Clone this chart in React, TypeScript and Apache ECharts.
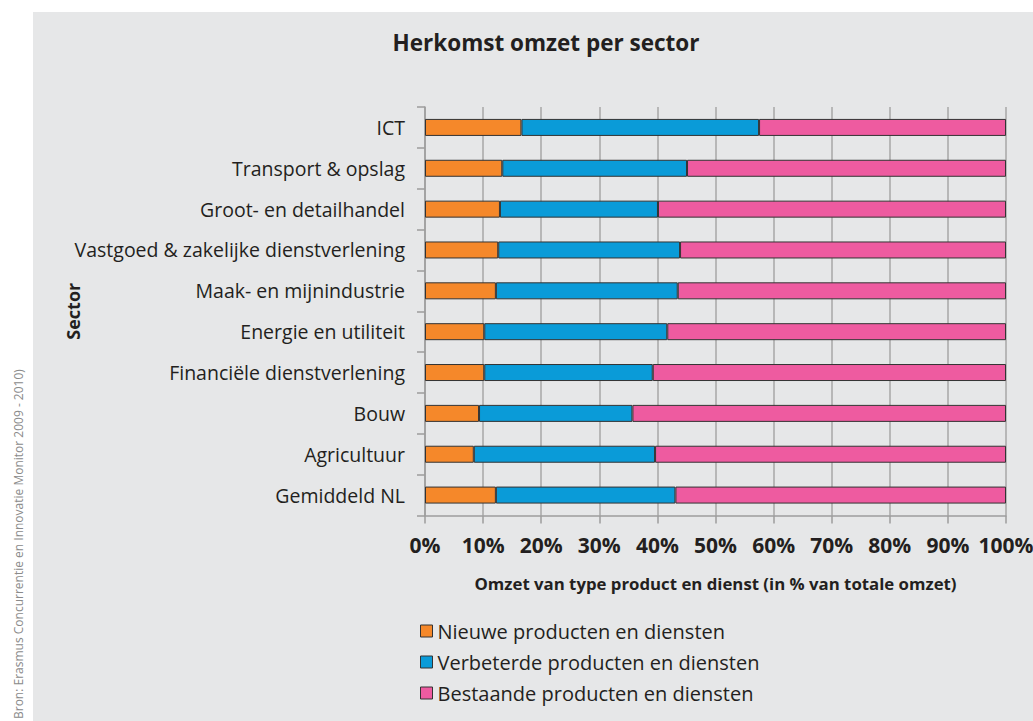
import React, { useEffect, useRef } from "react";
import * as echarts from "echarts";

const categories = [
  "ICT",
  "Transport & opslag",
  "Groot- en detailhandel",
  "Vastgoed & zakelijke dienstverlening",
  "Maak- en mijnindustrie",
  "Energie en utiliteit",
  "Financiële dienstverlening",
  "Bouw",
  "Agricultuur",
  "Gemiddeld NL",
];
const nieuwe = [16.6, 13.3, 12.9, 12.6, 12.2, 10.2, 10.2, 9.3, 8.4, 12.2];
const verbeterde = [40.9, 31.8, 27.2, 31.3, 31.3, 31.5, 29.0, 26.4, 31.2, 30.9];
const bestaande = [42.5, 54.9, 59.9, 56.1, 56.5, 58.3, 60.8, 64.3, 60.4, 56.9];
const seriesNames = [
  "Nieuwe producten en diensten",
  "Verbeterde producten en diensten",
  "Bestaande producten en diensten",
];
const xTicks = [0, 10, 20, 30, 40, 50, 60, 70, 80, 90, 100];

const FONT = "'Open Sans', 'Noto Sans', sans-serif";
const TXT = "#231f20";

export default function App() {
  const ref = useRef<HTMLDivElement>(null);
  useEffect(() => {
    if (!ref.current) return;
    const chart = echarts.init(ref.current, undefined, { renderer: "svg" });
    const colors = ["#f5882a", "#0a9bd8", "#ee5ba0"];
    const values = [nieuwe, verbeterde, bestaande];
    chart.setOption({
      animation: false,
      textStyle: { fontFamily: FONT, color: TXT },
      graphic: [
        {
          type: "rect",
          shape: { x: 33, y: 12, width: 1000, height: 709 },
          style: { fill: "#e6e7e8" },
          z: -10,
        },
        {
          type: "text",
          x: 18,
          y: 719,
          rotation: Math.PI / 2,
          style: {
            text: "Bron: Erasmus Concurrentie en Innovatie Monitor 2009 - 2010)",
            fontSize: 12,
            fontFamily: FONT,
            fill: "#8a8a8a",
            textAlign: "left",
            textVerticalAlign: "middle",
          },
        },
      ],
      title: {
        text: "Herkomst omzet per sector",
        left: 546,
        top: 31,
        textAlign: "center",
        padding: 0,
        textStyle: { fontFamily: FONT, fontWeight: "bold", fontSize: 22.5, color: TXT },
      },
      legend: {
        orient: "vertical",
        left: 420,
        top: 621,
        padding: 0,
        itemGap: 11,
        itemWidth: 12,
        itemHeight: 12,
        itemTextGap: 9,
        icon: "rect",
        data: seriesNames,
        itemStyle: { borderColor: "#333", borderWidth: 1 },
        textStyle: { fontFamily: FONT, fontSize: 20, color: TXT, lineHeight: 20 },
      },
      grid: {
        left: 425,
        right: 27,
        top: 107,
        bottom: 205.5,
        containLabel: false,
        outerBoundsMode: "none",
      },
      xAxis: {
        type: "value",
        min: 0,
        max: 100,
        interval: 10,
        name: "Omzet van type product en dienst (in % van totale omzet)",
        nameLocation: "middle",
        nameGap: 59,
        nameMoveOverlap: false,
        nameTextStyle: { fontFamily: FONT, fontSize: 16.8, fontWeight: "bold", color: TXT },
        axisLine: { show: true, lineStyle: { color: "#9d9d9d", width: 1.5 } },
        axisTick: { show: true, length: 8, lineStyle: { color: "#9d9d9d", width: 1.5 } },
        splitLine: { show: true, lineStyle: { color: "#a7a7a7", width: 1.5 } },
        axisLabel: {
          margin: 19,
          fontFamily: FONT,
          fontSize: 21,
          fontWeight: "bold",
          color: TXT,
          formatter: (v: number) => (xTicks.includes(v) ? v + "%" : ""),
        },
      },
      yAxis: {
        type: "category",
        data: categories,
        inverse: true,
        name: "Sector",
        nameLocation: "middle",
        nameGap: 343,
        nameMoveOverlap: false,
        nameRotate: 90,
        nameTextStyle: { fontFamily: FONT, fontSize: 18, fontWeight: "bold", color: TXT },
        axisLine: { show: true, lineStyle: { color: "#9d9d9d", width: 1.5 } },
        axisTick: { show: true, length: 8, interval: 0, lineStyle: { color: "#9d9d9d", width: 1.5 } },
        axisLabel: { margin: 20, fontFamily: FONT, fontSize: 19.5, color: TXT, interval: 0 },
        splitLine: { show: false },
      },
      series: seriesNames.map((n, i) => ({
        name: n,
        type: "bar",
        stack: "total",
        barWidth: 17,
        data: values[i],
        itemStyle: { color: colors[i], borderColor: "#333", borderWidth: 1 },
        emphasis: { disabled: true },
      })),
    });
    return () => chart.dispose();
  }, []);
  return (
    <div
      ref={ref}
      style={{ position: "absolute", left: 0, top: 0, width: 1033, height: 721, background: "#ffffff" }}
    />
  );
}
